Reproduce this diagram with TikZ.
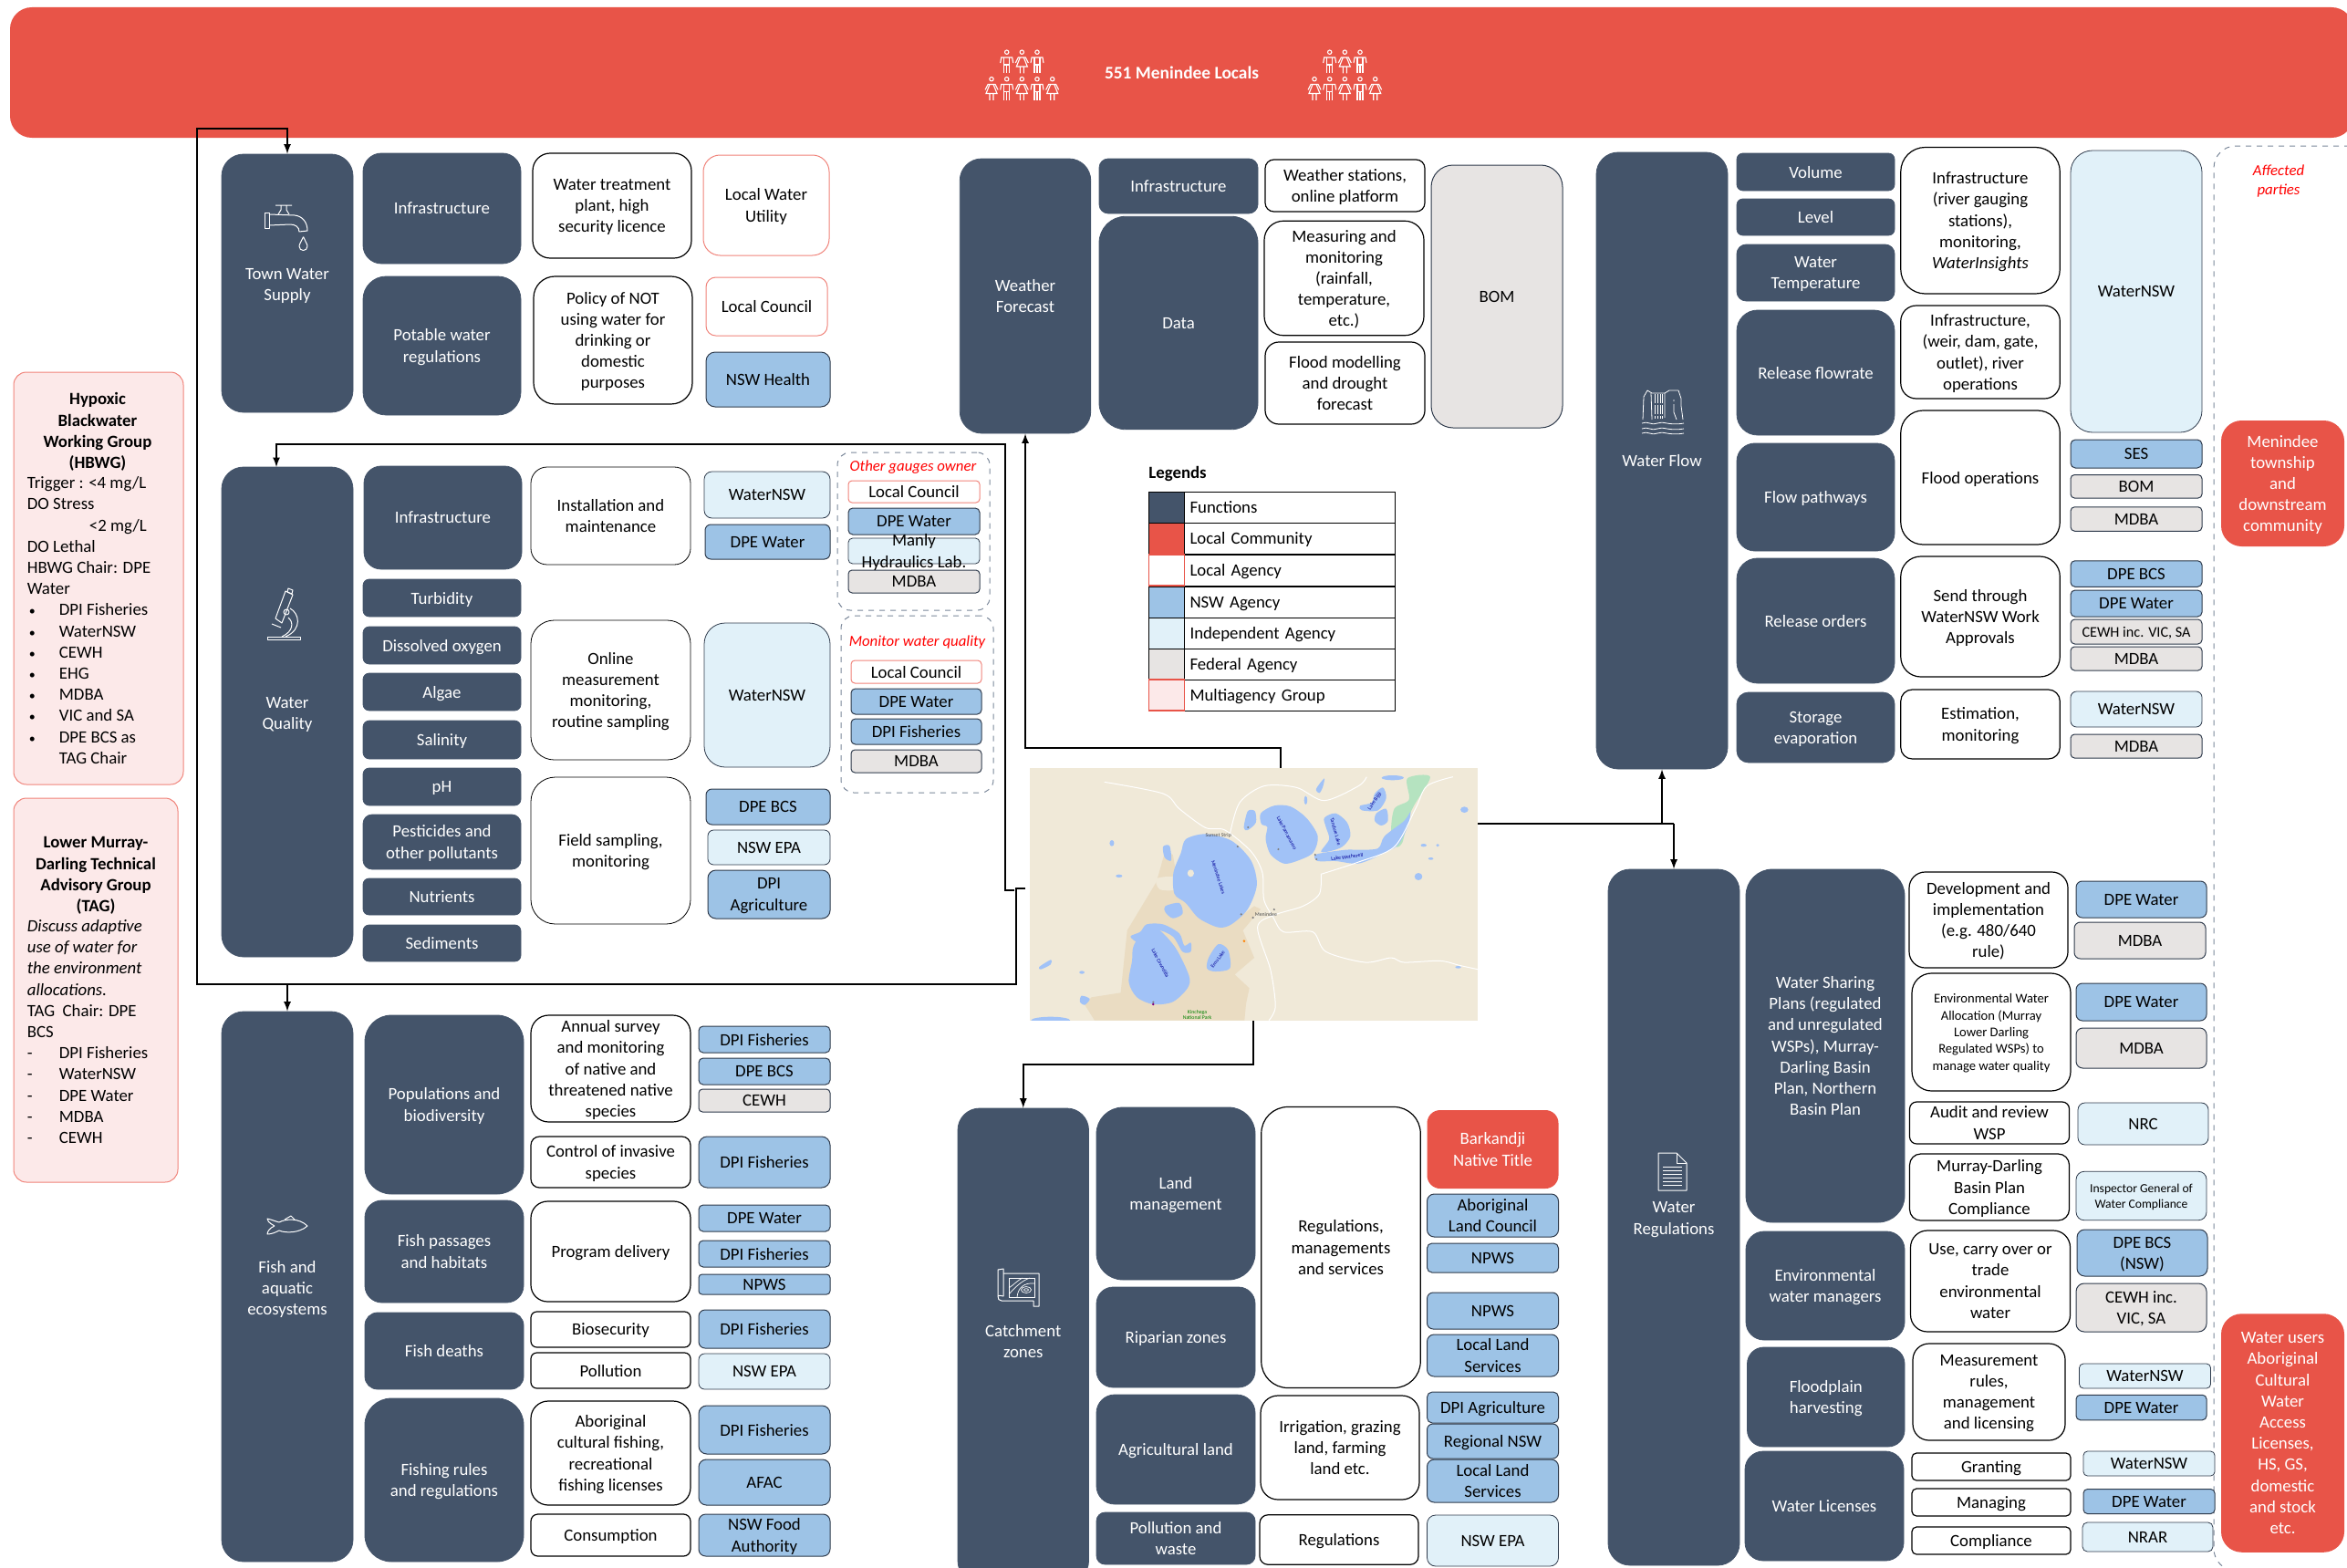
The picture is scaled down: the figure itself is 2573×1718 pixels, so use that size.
\documentclass[tikz,border=0pt]{standalone}
\usepackage{fontspec}
\setmainfont{Carlito}
\usetikzlibrary{positioning}
\definecolor{fncol}{HTML}{44546A}
\definecolor{comred}{HTML}{E85448}
\definecolor{lclred}{HTML}{F0837A}
\definecolor{nswblue}{HTML}{9DC3E6}
\definecolor{indblue}{HTML}{E1F1F9}
\definecolor{fedgray}{HTML}{E7E4E3}
\definecolor{grppink}{HTML}{FCE9E9}
\definecolor{bordercol}{HTML}{2F3B4C}
\definecolor{dashcol}{HTML}{7A8799}
\definecolor{mapland}{HTML}{F0E9D8}
\definecolor{mappark}{HTML}{EADCC2}
\definecolor{mapwater}{HTML}{A1C2F7}
\definecolor{mapgreen}{HTML}{B5E3C0}
\newcommand{\basefont}{\fontsize{9.4}{11.6}\selectfont}
\newcommand{\midfont}{\fontsize{8.1}{10}\selectfont}
\newcommand{\smallfont}{\fontsize{7.3}{9.2}\selectfont}
\newcommand{\tinyfont}{\fontsize{6.8}{8.5}\selectfont}
\newcommand{\bul}{\makebox[17.5pt][l]{\hspace*{1pt}\fontsize{7}{7}\selectfont •}}
\tikzset{
    sz/.code 2 args={\pgfmathsetmacro\szr{min(#1,#2)/6*0.5}\tikzset{minimum width=#1*0.5pt,minimum height=#2*0.5pt,rounded corners=\szr pt}},
    lbl/.style={align=center,inner sep=0pt,font=\basefont,text depth=-1pt},
    fn/.style={lbl,fill=fncol,draw=fncol,text=white},
    act/.style={lbl,fill=white,draw=black,line width=0.6pt},
    lcl/.style={lbl,fill=white,draw=lclred,line width=0.5pt},
    nsw/.style={lbl,fill=nswblue,draw=bordercol,line width=0.5pt},
    ind/.style={lbl,fill=indblue,draw=bordercol,line width=0.4pt},
    fed/.style={lbl,fill=fedgray,draw=bordercol,line width=0.5pt},
    com/.style={lbl,fill=comred,text=white},
    grp/.style={lbl,fill=grppink,draw=lclred,line width=0.5pt},
    dashgrp/.style={lbl,draw=dashcol,dashed,line width=0.5pt},
    redtxt/.style={lbl,text=red,font=\fontsize{8.4}{10.4}\selectfont\itshape},
    legcell/.style={draw=black,line width=0.4pt,minimum width=19.5pt,minimum height=17.1pt,inner sep=0pt},
    legtext/.style={text depth=-1pt,draw=black,line width=0.4pt,text width=109.5pt,inner xsep=3pt,inner ysep=0pt,minimum height=17.1pt,align=left,font=\basefont},
    conn/.style={draw=black,line width=0.8pt},
    icon/.style={draw=white,line width=0.5pt,line join=round},
    mapname/.style={inner sep=0pt,text=blue!60!black,font=\fontsize{2.9}{3.2}\selectfont},
    man/.pic={
        \draw[white,line width=0.55pt] (0,2.2) circle [radius=2.2];
        \draw[white,line width=0.55pt] (-7,14) -- (-6,8) -- (6,8) -- (7,14);
        \draw[white,line width=0.55pt] (-3,8) -- (-3,25.5) (3,8) -- (3,25.5) (0,16) -- (0,25.5) (-3,16) -- (3,16);
    },
    woman/.pic={
        \draw[white,line width=0.55pt] (0,2.2) circle [radius=2.2];
        \draw[white,line width=0.55pt] (-7,14) -- (-4,8) -- (4,8) -- (7,14);
        \draw[white,line width=0.55pt] (-2,8) -- (-6,18) -- (6,18) -- (2,8) (-2,18) -- (-2,25.5) (2,18) -- (2,25.5);
    }
}
\begin{document}
\begin{tikzpicture}[x=0.5pt,y=-0.5pt]
    \useasboundingbox (0,0) rectangle (2573,1718);
    \clip (0,0) rectangle (2573,1718);

    \node[com,sz={2569}{143},font=\fontsize{9.7}{11.6}\selectfont\bfseries] (locals) at (1295.5,79.5) {551 Menindee Locals};
    \pic at (1103.7,55) {man};
    \pic at (1120.3,55) {woman};
    \pic at (1137,55) {man};
    \pic at (1087,84.5) {woman};
    \pic at (1103.7,84.5) {man};
    \pic at (1120.3,84.5) {woman};
    \pic at (1137,84.5) {man};
    \pic at (1153.7,84.5) {woman};
    \pic at (1457.7,55) {man};
    \pic at (1474.3,55) {woman};
    \pic at (1491,55) {man};
    \pic at (1441,84.5) {woman};
    \pic at (1457.7,84.5) {man};
    \pic at (1474.3,84.5) {woman};
    \pic at (1491,84.5) {man};
    \pic at (1507.7,84.5) {woman};

    \node[grp,sz={186}{452},rounded corners=7pt] (hbwg) at (108,634) {};
    \node[lbl,font=\basefont\bfseries] (hbwgtitle) at (107,472) {Hypoxic\\Blackwater\\Working Group\\(HBWG)};
    \node[lbl,align=left,anchor=west] (hbwglist) at (29.5,680) {Trigger : <4 mg/L\\DO Stress\\\hspace*{34pt}<2 mg/L\\DO Lethal\\HBWG Chair: DPE\\Water\\\bul DPI Fisheries\\\bul WaterNSW\\\bul CEWH\\\bul EHG\\\bul MDBA\\\bul VIC and SA\\\bul DPE BCS as\\\hspace*{17.5pt}TAG Chair};
    \node[grp,sz={180}{421},rounded corners=7pt] (tag) at (105,1085.5) {};
    \node[lbl,font=\basefont\bfseries] (tagtitle) at (105,958.5) {Lower Murray-\\Darling Technical\\Advisory Group\\(TAG)};
    \node[lbl,align=left,anchor=west] (taglist) at (29.5,1131) {\textit{Discuss adaptive}\\\textit{use of water for}\\\textit{the environment}\\\textit{allocations.}\\TAG~ Chair: DPE\\BCS\\\makebox[17.5pt][l]{-}DPI Fisheries\\\makebox[17.5pt][l]{-}WaterNSW\\\makebox[17.5pt][l]{-}DPE Water\\\makebox[17.5pt][l]{-}MDBA\\\makebox[17.5pt][l]{-}CEWH};

    \node[fn,sz={144}{283}] (tapbig) at (315,310.5) {};
    \node[lbl,text=white] (taplabel) at (315,312) {Town Water\\Supply};
    \draw[icon] (290,233) rectangle (295,250);
    \draw[icon] (295,235) -- (323,236) .. controls (332,237) and (337,244) .. (337,253) -- (328,254) .. controls (328,249) and (324,246) .. (318,246) -- (295,247);
    \draw[icon] (302,225) -- (320,225) (308,225) -- (308,230) -- (305,235) (314,225) -- (314,230) -- (317,235);
    \draw[icon] (332.6,259.6) .. controls (330,265) and (328,268) .. (328,270) .. controls (328,276) and (337,276) .. (337,270) .. controls (337,268) and (335,265) .. (332.6,259.6);
    \node[fn,sz={173}{121}] (tapinfra) at (484.5,228.5) {Infrastructure};
    \node[fn,sz={173}{152}] (potable) at (484.5,379) {Potable water\\regulations};
    \node[act,sz={174}{115}] (treatment) at (671,225.5) {Water treatment\\plant, high\\security licence};
    \node[act,sz={174}{140}] (policy) at (672,373) {Policy of NOT\\using water for\\drinking or\\domestic\\purposes};
    \node[lcl,sz={138}{110}] (utility) at (840,225) {Local Water\\Utility};
    \node[lcl,sz={133}{64}] (tapcouncil) at (840.5,336) {Local Council};
    \node[nsw,sz={136}{60}] (health) at (842,416) {NSW Health};

    \node[fn,sz={144}{537}] (wqbig) at (315,780.5) {};
    \node[lbl,text=white] (wqlabel) at (315,782) {Water\\Quality};
    \draw[icon] (293,698) rectangle (329,701);
    \draw[icon] (313,648) -- (321,652) -- (309,683) -- (302,678) -- cycle;
    \draw[icon] (316,645) -- (321,647) -- (320,651) -- (315,649) -- cycle;
    \draw[icon] (314,671) circle [radius=3];
    \draw[icon] (318,667) .. controls (328,672) and (332,690) .. (313,698);
    \draw[icon] (316,677) .. controls (322,682) and (322,692) .. (309,698);
    \draw[icon] (298,684) -- (308,688);
    \node[fn,sz={173}{113}] (wqinfra) at (485.5,567.5) {Infrastructure};
    \node[fn,sz={173}{41}] (turbidity) at (484.5,655.5) {Turbidity};
    \node[fn,sz={173}{41}] (oxygen) at (484.5,707.5) {Dissolved oxygen};
    \node[fn,sz={173}{41}] (algae) at (484.5,758.5) {Algae};
    \node[fn,sz={173}{42}] (salinity) at (484.5,811) {Salinity};
    \node[fn,sz={173}{41}] (ph) at (484.5,862.5) {pH};
    \node[fn,sz={173}{60}] (pesticides) at (484.5,923) {Pesticides and\\other pollutants};
    \node[fn,sz={173}{40}] (nutrients) at (484.5,983) {Nutrients};
    \node[fn,sz={173}{40}] (sediments) at (484.5,1034) {Sediments};
    \node[act,sz={175}{107},line width=0.4pt] (install) at (669.5,565.5) {Installation and\\maintenance};
    \node[act,sz={175}{153},line width=0.4pt] (online) at (669.5,756.5) {Online\\measurement\\monitoring,\\routine sampling};
    \node[act,sz={175}{161},line width=0.4pt] (fieldwork) at (669.5,932.5) {Field sampling,\\monitoring};
    \node[ind,sz={138}{51}] (wqnsw) at (841,542.5) {WaterNSW};
    \node[nsw,sz={137}{38}] (wqdpe) at (841.5,594) {DPE Water};
    \node[ind,sz={138}{158}] (wqnswb) at (841,762) {WaterNSW};
    \node[nsw,sz={136}{39}] (wqbcs) at (842,884.5) {DPE BCS};
    \node[ind,sz={134}{38}] (wqepa) at (843,929) {NSW EPA};
    \node[nsw,sz={134}{53}] (wqdpi) at (843,980.5) {DPI\\Agriculture};

    \node[dashgrp,sz={167}{173},rounded corners=7pt] (gauges) at (1001.5,582.5) {};
    \node[redtxt] (gaugestitle) at (1001,511) {Other gauges owner};
    \node[lcl,sz={144}{24}] (gcouncil) at (1002,539) {Local Council};
    \node[nsw,sz={144}{29}] (gdpe) at (1002,571.5) {DPE Water};
    \node[ind,sz={144}{28}] (gmanly) at (1002,604) {};
    \node[fed,sz={144}{25}] (gmdba) at (1002,637.5) {MDBA};
    \node[lbl] (gmanlytext) at (1002,604) {Manly\\Hydraulics Lab.};
    \node[dashgrp,sz={167}{194},rounded corners=7pt] (monitor) at (1005.5,772) {};
    \node[redtxt] (monitortitle) at (1005.5,703) {Monitor water quality};
    \node[lcl,sz={143}{25}] (mcouncil) at (1004.5,736.5) {Local Council};
    \node[nsw,sz={143}{28}] (mdpe) at (1004.5,769) {DPE Water};
    \node[nsw,sz={143}{28}] (mdpi) at (1004.5,802) {DPI Fisheries};
    \node[fed,sz={143}{25}] (mmdba) at (1004.5,834.5) {MDBA};

    \node[fn,sz={144}{603}] (fishbig) at (315,1410.5) {};
    \node[lbl,text=white] (fishlabel) at (315,1412) {Fish and\\aquatic\\ecosystems};
    \draw[icon] (301,1344) .. controls (294,1340) and (293,1338) .. (293,1336) .. controls (298,1337) and (302,1339) .. (306,1340) .. controls (313,1336) and (328,1335) .. (337,1344) .. controls (328,1352) and (313,1352) .. (306,1349) .. controls (302,1351) and (298,1353) .. (293,1353) .. controls (293,1350) and (296,1346) .. (301,1344);
    \draw[icon] (312,1337) -- (319,1333) -- (323,1337);
    \node[fn,sz={174}{196}] (biodiv) at (487,1211) {Populations and\\biodiversity};
    \node[fn,sz={174}{112}] (passages) at (487,1372) {Fish passages\\and habitats};
    \node[fn,sz={174}{84}] (deaths) at (487,1481) {Fish deaths};
    \node[fn,sz={174}{179}] (rules) at (487,1622.5) {Fishing rules\\and regulations};
    \node[act,sz={175}{117}] (survey) at (669.5,1171.5) {Annual survey\\and monitoring\\of native and\\threatened native\\species};
    \node[act,sz={175}{56}] (invasive) at (669.5,1274) {Control of invasive\\species};
    \node[act,sz={175}{110}] (program) at (669.5,1372) {Program delivery};
    \node[act,sz={175}{39}] (biosec) at (669.5,1457.5) {Biosecurity};
    \node[act,sz={175}{39}] (fishpol) at (669.5,1502.5) {Pollution};
    \node[act,sz={175}{114}] (cultural) at (669.5,1593) {Aboriginal\\cultural fishing,\\recreational\\fishing licenses};
    \node[act,sz={175}{46}] (consume) at (669.5,1683) {Consumption};
    \node[nsw,sz={144}{29}] (fa) at (838,1139.5) {DPI Fisheries};
    \node[nsw,sz={144}{29}] (fb) at (838,1174.5) {DPE BCS};
    \node[fed,sz={144}{25}] (fc) at (838,1206.5) {CEWH};
    \node[nsw,sz={144}{56}] (fd) at (838,1274) {DPI Fisheries};
    \node[nsw,sz={144}{29}] (fe) at (838,1335.5) {DPE Water};
    \node[nsw,sz={144}{29}] (ff) at (838,1374.5) {DPI Fisheries};
    \node[nsw,sz={144}{22}] (fg) at (838,1408) {NPWS};
    \node[nsw,sz={144}{42}] (fh) at (838,1457) {DPI Fisheries};
    \node[ind,sz={144}{39}] (fi) at (838,1503.5) {NSW EPA};
    \node[nsw,sz={144}{53}] (fj) at (838,1567.5) {DPI Fisheries};
    \node[nsw,sz={144}{50}] (fk) at (838,1625) {AFAC};
    \node[nsw,sz={144}{46}] (fl) at (838,1683) {NSW Food\\Authority};

    \node[fn,sz={143.5}{301}] (wfbig) at (1124,324.5) {Weather\\Forecast};
    \node[fn,sz={174}{60}] (wfinfra) at (1292,204) {Infrastructure};
    \node[fn,sz={174}{233.5}] (wfdata) at (1292,354) {Data};
    \node[act,sz={175}{57}] (stations) at (1474.5,203.5) {Weather stations,\\online platform};
    \node[act,sz={175}{125.5}] (measuring) at (1473.5,305) {Measuring and\\monitoring\\(rainfall,\\temperature,\\etc.)};
    \node[act,sz={175}{90}] (modelling) at (1474.5,420) {Flood modelling\\and drought\\forecast};
    \node[fed,sz={144}{288}] (wfbom) at (1641,325) {BOM};

    \node[lbl,anchor=west,font=\basefont\bfseries] (legends) at (1259,517.5) {Legends};
    \node[legtext] (lt1) at (1414,556) {Functions};
    \node[legtext] (lt2) at (1414,590) {Local Community};
    \node[legtext] (lt3) at (1414,625) {Local Agency};
    \node[legtext] (lt4) at (1414,660) {NSW Agency};
    \node[legtext] (lt5) at (1414,694) {Independent Agency};
    \node[legtext] (lt6) at (1414,728) {Federal Agency};
    \node[legtext] (lt7) at (1414,762) {Multiagency Group};
    \node[legcell,fill=fncol] (lc1) at (1279,556) {};
    \node[legcell,fill=comred] (lc2) at (1279,590) {};
    \node[legcell,fill=nswblue] (lc4) at (1279,660) {};
    \node[legcell,fill=indblue] (lc5) at (1279,694) {};
    \node[legcell,fill=fedgray] (lc6) at (1279,728) {};
    \node[legcell,fill=white,draw=comred,line width=0.7pt] (lc3) at (1279,625) {};
    \node[legcell,fill=grppink,draw=comred,line width=0.7pt] (lc7) at (1279,762) {};

    \node[fn,sz={144}{676}] (flowbig) at (1822,505) {Water Flow};
    \draw[icon,line width=0.4pt] (1801,460) -- (1802,435) -- (1806,428) -- (1811,431) -- (1825,431) -- (1830,428) -- (1840,428) -- (1843,437) -- (1843,445) -- (1845,460);
    \draw[icon,line width=0.4pt] (1810,431) -- (1811,460) (1825,431) -- (1825,458);
    \draw[icon,line width=0.4pt,dash pattern=on 5pt off 1pt] (1814,432) -- (1814,459) (1817,432) -- (1817,459) (1820,432) -- (1820,459) (1822,432) -- (1822,459);
    \draw[icon,line width=0.4pt] (1835,438) -- (1835,440) (1835,443) -- (1835,452) -- (1838,460);
    \draw[icon,line width=0.4pt] (1800,464) .. controls (1806,461) and (1811,467) .. (1817,464) .. controls (1823,461) and (1829,467) .. (1846,464);
    \draw[icon,line width=0.4pt] (1800,470) .. controls (1806,467) and (1811,473) .. (1817,470) .. controls (1823,467) and (1829,473) .. (1846,470);
    \draw[icon,line width=0.4pt] (1800,475) .. controls (1806,472) and (1811,478) .. (1817,475) .. controls (1823,472) and (1829,478) .. (1846,475);
    \node[fn,sz={173}{41}] (volume) at (1990.5,188.5) {Volume};
    \node[fn,sz={173}{40}] (level) at (1990.5,238) {Level};
    \node[fn,sz={173}{62}] (temperature) at (1990.5,299) {Water\\Temperature};
    \node[fn,sz={173}{137}] (flowrate) at (1990.5,408.5) {Release flowrate};
    \node[fn,sz={173}{118}] (pathways) at (1990.5,545) {Flow pathways};
    \node[fn,sz={173}{137}] (orders) at (1990.5,680.5) {Release orders};
    \node[fn,sz={173}{77}] (evaporation) at (1990.5,797.5) {Storage\\evaporation};
    \node[act,sz={174.5}{160.5}] (gauging) at (2171,241.75) {Infrastructure\\(river gauging\\stations),\\monitoring,\\\textit{WaterInsights}};
    \node[act,sz={174.5}{102}] (weir) at (2171,386) {Infrastructure,\\(weir, dam, gate,\\outlet), river\\operations};
    \node[act,sz={174.5}{147}] (floodops) at (2171,523.5) {Flood operations};
    \node[act,sz={174.5}{132}] (approvals) at (2171,676) {Send through\\WaterNSW Work\\Approvals};
    \node[act,sz={174.5}{76}] (estimation) at (2171,794) {Estimation,\\monitoring};
    \node[ind,sz={144}{309}] (flownsw) at (2342,319.5) {WaterNSW};
    \node[nsw,sz={144}{31}] (ses) at (2342,497.5) {SES};
    \node[fed,sz={144}{25.5}] (flowbom) at (2342,533.25) {BOM};
    \node[fed,sz={144}{26.5}] (flowmdba) at (2342,569) {MDBA};
    \node[nsw,sz={144}{28.5}] (flowbcs) at (2342,629) {DPE BCS};
    \node[nsw,sz={144}{29}] (flowdpe) at (2342,661.5) {DPE Water};
    \node[fed,sz={144}{27},font=\midfont] (flowcewh) at (2342,692.5) {CEWH inc. VIC, SA};
    \node[fed,sz={144}{26}] (flowmdbb) at (2342,722) {MDBA};
    \node[ind,sz={144}{39}] (flownsb) at (2342,777.5) {WaterNSW};
    \node[fed,sz={144}{26}] (flowmdbc) at (2342,818) {MDBA};

    \node[dashgrp,sz={293}{1562},rounded corners=12pt] (affected) at (2573.5,941) {};
    \node[redtxt] (affectedtitle) at (2498,197.5) {Affected\\parties};
    \node[com,sz={135}{138}] (township) at (2502.5,530) {Menindee\\township\\and\\downstream\\community};
    \node[com,sz={135}{261.5}] (users) at (2502.5,1571) {Water users\\Aboriginal\\Cultural\\Water\\Access\\Licenses,\\HS, GS,\\domestic\\and stock\\etc.};

    \node[fn,sz={144}{763}] (regbig) at (1835,1334.5) {};
    \node[lbl,text=white] (reglabel) at (1835,1335.5) {Water\\Regulations};
    \draw[icon] (1818,1264) -- (1838,1264) -- (1849,1275) -- (1849,1305) -- (1818,1305) -- cycle;
    \draw[icon] (1838,1264) -- (1838,1275) -- (1849,1275);
    \draw[icon] (1823,1279) -- (1844,1279) (1823,1283) -- (1844,1283) (1823,1287) -- (1844,1287) (1823,1291) -- (1844,1291) (1823,1295) -- (1844,1295) (1823,1299) -- (1844,1299);
    \node[fn,sz={174}{387}] (sharing) at (2001,1146.5) {Water Sharing\\Plans (regulated\\and unregulated\\WSPs), Murray-\\Darling Basin\\Plan, Northern\\Basin Plan};
    \node[fn,sz={174}{119}] (envmanagers) at (2001,1409.5) {Environmental\\water managers};
    \node[fn,sz={172.5}{109}] (harvesting) at (2001.75,1531.5) {Floodplain\\harvesting};
    \node[fn,sz={174}{120}] (licenses) at (2000,1651) {Water Licenses};
    \node[act,sz={174}{105}] (develop) at (2180,1008.5) {Development and\\implementation\\(e.g. 480/640\\rule)};
    \node[act,sz={174}{129},font=\smallfont] (allocation) at (2183,1131.5) {Environmental Water\\Allocation (Murray\\Lower Darling\\Regulated WSPs) to\\manage water quality};
    \node[act,sz={175}{46}] (audit) at (2181,1231) {Audit and review\\WSP};
    \node[act,sz={175}{73}] (compliance) at (2181,1301.5) {Murray-Darling\\Basin Plan\\Compliance};
    \node[act,sz={175}{111}] (carryover) at (2182,1404.5) {Use, carry over or\\trade\\environmental\\water};
    \node[act,sz={167}{106}] (measurement) at (2180.5,1526) {Measurement\\rules,\\management\\and licensing};
    \node[act,sz={174}{30}] (granting) at (2183,1608) {Granting};
    \node[act,sz={174}{30}] (managing) at (2183,1647) {Managing};
    \node[act,sz={174}{30}] (licence) at (2183,1689) {Compliance};
    \node[nsw,sz={143}{40}] (ra) at (2347.5,986) {DPE Water};
    \node[fed,sz={144}{40}] (rb) at (2346,1031) {MDBA};
    \node[nsw,sz={143}{41}] (rc) at (2347.5,1098.5) {DPE Water};
    \node[fed,sz={143}{44}] (rd) at (2347.5,1149) {MDBA};
    \node[ind,sz={143}{46}] (re) at (2349.5,1232) {NRC};
    \node[ind,sz={143}{53.5},font=\tinyfont] (rf) at (2347.5,1311) {Inspector General of\\Water Compliance};
    \node[nsw,sz={143}{51}] (rg) at (2348.5,1373.5) {DPE BCS\\(NSW)};
    \node[fed,sz={143}{53}] (rh) at (2347.5,1433.5) {CEWH inc.\\VIC, SA};
    \node[ind,sz={144}{27}] (ri) at (2351.5,1508.5) {WaterNSW};
    \node[nsw,sz={143}{27.5}] (rj) at (2347.5,1543) {DPE Water};
    \node[ind,sz={144}{27}] (rk) at (2356,1604.5) {WaterNSW};
    \node[nsw,sz={144}{27}] (rl) at (2356,1646) {DPE Water};
    \node[ind,sz={143}{32}] (rm) at (2354.5,1685) {NRAR};

    \node[fn,sz={143.5}{520}] (catchbig) at (1121.75,1475) {};
    \node[lbl,text=white] (catchlabel) at (1121.75,1470.5) {Catchment\\zones};
    \draw[icon] (1100,1396) -- (1139,1396) -- (1139,1426) -- (1139,1432) -- (1133,1432) -- (1133,1426) -- (1098,1426) .. controls (1095,1426) and (1094,1424) .. (1094,1421);
    \draw[icon] (1094,1421) -- (1094,1392) -- (1100,1391) -- (1100,1421) .. controls (1097,1420) and (1095,1420) .. (1094,1421);
    \draw[icon] (1106,1401) rectangle (1134,1422);
    \draw[icon,line width=0.35pt] (1125,1414) ellipse [x radius=2.5,y radius=1.3];
    \draw[icon,line width=0.35pt] (1125,1414) ellipse [x radius=5.5,y radius=3.5];
    \draw[icon,line width=0.35pt] (1115,1422) .. controls (1116,1412) and (1122,1406) .. (1134,1407);
    \draw[icon,line width=0.35pt] (1106,1412) .. controls (1112,1408) and (1115,1404) .. (1121,1401);
    \draw[icon,line width=0.35pt] (1106,1419) .. controls (1112,1412) and (1120,1404) .. (1129,1401);
    \node[fn,sz={174}{189}] (landmgmt) at (1289,1308.5) {Land\\management};
    \node[fn,sz={174}{110}] (riparian) at (1289,1466) {Riparian zones};
    \node[fn,sz={174}{120}] (agricultural) at (1289,1589) {Agricultural land};
    \node[fn,sz={174}{57}] (waste) at (1289,1686.5) {Pollution and\\waste};
    \node[act,sz={174.5}{308}] (services) at (1470,1367.5) {Regulations,\\managements\\and services};
    \node[act,sz={174}{114}] (irrigation) at (1469,1587) {Irrigation, grazing\\land, farming\\land etc.};
    \node[act,sz={174}{54.5}] (regulations) at (1468,1688) {Regulations};
    \node[com,sz={144}{86}] (barkandji) at (1636.5,1260) {Barkandji\\Native Title};
    \node[nsw,sz={144}{47}] (aboriginal) at (1636.5,1332.5) {Aboriginal\\Land Council};
    \node[nsw,sz={144}{32}] (npwsa) at (1636.5,1379) {NPWS};
    \node[nsw,sz={144}{40}] (npwsb) at (1636.5,1437) {NPWS};
    \node[nsw,sz={144}{46}] (llsa) at (1636.5,1486) {Local Land\\Services};
    \node[nsw,sz={144}{34}] (dpiag) at (1636.5,1543) {DPI Agriculture};
    \node[nsw,sz={144}{38}] (regional) at (1636.5,1580) {Regional NSW};
    \node[nsw,sz={144}{47}] (llsb) at (1636.5,1623.5) {Local Land\\Services};
    \node[ind,sz={144}{56}] (catchepa) at (1636.5,1689) {NSW EPA};

    \node[minimum width=245.5pt,minimum height=138.5pt,inner sep=0pt,fill=mapland] (map) at (1374.5,980.5) {};
    \begin{scope}[shift={(1100,820)},x=0.17857pt,y=-0.16667pt]
        \clip (81,66) rectangle (1456,896);
        \fill[mappark] (495,345) -- (520,350) -- (540,470) -- (600,560) -- (670,590) -- (720,560) -- (770,520) -- (790,530) -- (735,600) -- (770,690) -- (710,745) -- (755,790) -- (745,840) -- (740,896) -- (280,896) -- (250,845) -- (270,820) -- (360,805) -- (380,600) -- (470,440) -- cycle;
        \fill[mapland] plot[smooth cycle] coordinates {(470,430) (525,425) (530,465) (480,465)};
        \fill[mapgreen] plot[smooth cycle] coordinates {(1240,100) (1310,95) (1260,190) (1240,240) (1225,310) (1205,325) (1190,280) (1200,200) (1245,170)};
        \fill[mapwater] plot[smooth cycle] coordinates {(560,300) (620,283) (700,305) (760,370) (778,450) (750,530) (700,580) (660,590) (600,560) (560,510) (525,480) (522,410) (545,345)};
        \fill[mapland] (575,412) ellipse [x radius=10,y radius=12];
        \fill[mapwater] plot[smooth cycle] coordinates {(790,215) (830,190) (880,192) (930,230) (965,290) (950,345) (900,372) (860,380) (820,350) (805,300) (810,260) (792,250)};
        \fill[mapwater] plot[smooth cycle] coordinates {(985,230) (1020,215) (1055,245) (1065,290) (1040,325) (1000,340) (975,340) (1000,300) (990,260)};
        \fill[mapwater] plot[smooth cycle] coordinates {(960,350) (1050,335) (1090,335) (1150,330) (1170,290) (1230,240) (1250,210) (1240,260) (1210,320) (1160,350) (1090,380) (1020,372) (965,372)};
        \fill[mapwater] plot[smooth cycle] coordinates {(1140,150) (1165,130) (1175,165) (1150,205) (1100,205) (1095,190) (1130,180)};
        \fill[mapwater] plot[smooth cycle] coordinates {(1145,215) (1175,200) (1180,240) (1160,255) (1140,240)};
        \fill[mapwater] plot[smooth cycle] coordinates {(400,650) (440,590) (480,600) (530,660) (570,750) (565,790) (520,835) (460,843) (410,820) (385,770) (395,700)};
        \fill[mapwater] plot[smooth cycle] coordinates {(390,620) (420,605) (440,580) (490,580) (540,610) (555,650) (575,640) (575,670) (550,670) (520,620) (470,600) (420,640)};
        \fill[mapwater] plot[smooth cycle] coordinates {(630,690) (660,645) (690,665) (695,725) (650,735) (625,725)};
        \fill[mapwater] plot[smooth cycle] coordinates {(497,520) (540,510) (550,545) (520,560) (497,540)};
        \fill[mapwater] plot[smooth cycle] coordinates {(490,325) (510,322) (515,370) (495,360)};
        \fill[mapwater] plot[smooth cycle] coordinates {(750,208) (772,208) (775,245) (750,270) (738,262)};
        \fill[mapwater] plot[smooth cycle] coordinates {(960,135) (985,100) (980,130) (970,148)};
        \fill[mapwater] plot[smooth cycle] coordinates {(110,720) (145,697) (145,712) (115,728)};
        \fill[mapwater] plot[smooth cycle] coordinates {(240,815) (265,825) (250,845) (235,835)};
        \fill[mapwater] (145,896) ellipse [x radius=60,y radius=12];
        \fill[mapwater] (1195,98) ellipse [x radius=34,y radius=8];
        \fill[mapwater] (928,172) ellipse [x radius=5,y radius=14];
        \fill[mapwater] (333,313) ellipse [x radius=7,y radius=10];
        \fill[mapwater] (355,421) ellipse [x radius=10,y radius=5];
        \fill[mapwater] (241,738) ellipse [x radius=8,y radius=5];
        \fill[mapwater] (1415,203) ellipse [x radius=12,y radius=10];
        \fill[mapwater] (1274,423) ellipse [x radius=12,y radius=12];
        \fill[mapwater] (1290,320) ellipse [x radius=9,y radius=5];
        \fill[mapwater] (1333,320) ellipse [x radius=5,y radius=5];
        \fill[mapwater] (1312,364) ellipse [x radius=8,y radius=4];
        \fill[mapwater] (1396,721) ellipse [x radius=9,y radius=4];
        \draw[white,line width=0.5pt] plot[smooth] coordinates {(310,112) (490,150) (540,200) (620,262) (680,270) (760,340) (795,410) (800,500) (830,560) (860,605) (950,605) (990,670) (1110,705) (1190,690) (1230,705) (1340,700) (1400,715) (1456,728)};
        \draw[white,line width=0.5pt] plot[smooth] coordinates {(695,285) (725,180) (800,125) (900,130) (985,173) (1090,125) (1115,95)};
        \draw[white,line width=0.5pt] plot[smooth] coordinates {(975,415) (970,480) (920,520) (830,550) (780,590) (820,730) (835,850) (815,896)};
        \draw[white,line width=0.5pt] plot[smooth] coordinates {(975,415) (1090,375) (1200,325) (1265,200) (1300,125) (1380,95)};
        \fill[gray] (751,261) circle [radius=0.6pt];
        \fill[gray] (719,324) circle [radius=0.6pt];
        \fill[gray] (844,333) circle [radius=0.6pt];
        \fill[gray] (957,351) circle [radius=0.6pt];
        \fill[gray] (961,366) circle [radius=0.6pt];
        \fill[gray] (730,547) circle [radius=0.6pt];
        \fill[gray] (766,558) circle [radius=0.6pt];
        \fill[gray] (831,531) circle [radius=0.6pt];
        \fill[gray] (460,836) circle [radius=0.6pt];
        \fill[orange] (739,635) circle [radius=0.7pt];
        \fill[violet] (460,843) circle [radius=0.7pt];
        \node[mapname,text=black!70] (sunset) at (660,288) {Sunset Strip};
        \node[mapname,rotate=-72] (mlakes) at (660,425) {Menindee Lakes};
        \node[mapname,rotate=-62] (pamamaroo) at (870,280) {Lake Pamamaroo};
        \node[mapname,rotate=-75] (tandure) at (1020,275) {Tandure Lake};
        \node[mapname,rotate=55] (bijiji) at (1140,175) {Lake Bijiji};
        \node[mapname,rotate=7] (wetherell) at (1055,358) {Lake Wetherell};
        \node[mapname,text=black!70] (township2) at (806,546) {Menindee};
        \node[mapname,rotate=-62] (cawndilla) at (482,708) {Lake Cawndilla};
        \node[mapname,rotate=55] (emu) at (658,695) {Emu Lake};
        \node[mapname,text=green!50!black,align=center] (kinchega) at (595,878) {Kinchega\\National Park};
    \end{scope}

    \coordinate (maptap) at (1124,974);
    \coordinate (mapwq) at (1112,976);
    \coordinate (mapnorth) at (1404,842);
    \coordinate (mapsouth) at (1374,1119);
    \coordinate (mapeast) at (1620,903);
    \coordinate (flowjoin) at (1822,903);
    \coordinate (regjoin) at (1835,903);
    \coordinate (tapbase) at (315,141);
    \coordinate (fishbase) at (315,1079);
    \coordinate (wqin) at (303,512);
    \coordinate (wfbase) at (1124,820);
    \coordinate (catchbase) at (1121.75,1167);
    \draw[conn,-latex] (maptap) -- (1114,974) -- (1114,1079) -- (216,1079) -- (216,141) -- (tapbase) -- (tapbig.north);
    \draw[conn,-latex] (fishbase) -- (fishbig.north);
    \draw[conn,-latex] (mapwq) -- (1102,976) -- (1102,487) -- (303,487) -- (wqin);
    \draw[conn,-latex] (mapnorth) |- (wfbase) -- (wfbig.south);
    \draw[conn,-latex] (mapsouth) |- (catchbase) -- (catchbig.north);
    \draw[conn] (mapeast) -- (regjoin);
    \draw[conn,-latex] (flowjoin) -- (flowbig.south);
    \draw[conn,-latex] (regjoin) -- (regbig.north);
\end{tikzpicture}
\end{document}
